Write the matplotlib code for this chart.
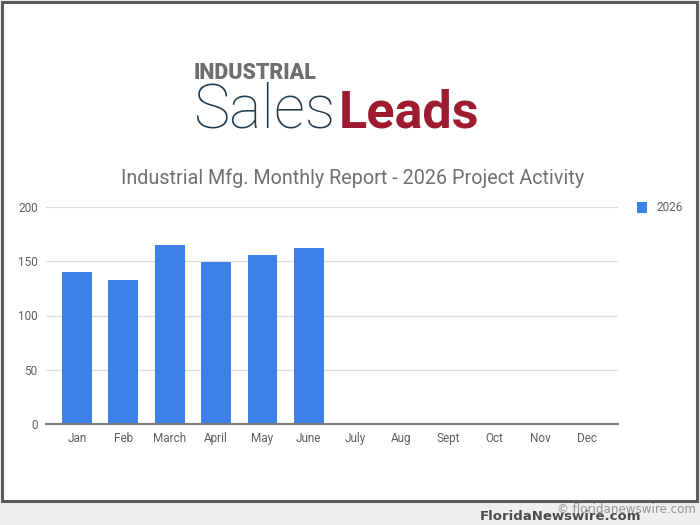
import matplotlib
matplotlib.use("Agg")
import matplotlib.pyplot as plt
from matplotlib.patches import Rectangle

months = ["Jan", "Feb", "March", "April", "May", "June",
          "July", "Aug", "Sept", "Oct", "Nov", "Dec"]
values_2026 = [140, 133, 165, 149, 156, 162, 0, 0, 0, 0, 0, 0]
yticks = [0, 50, 100, 150, 200]
series_name = "2026"
title = "Industrial Mfg. Monthly Report - 2026 Project Activity"

W, H = 700, 525
fig = plt.figure(figsize=(7, 5.25), dpi=100, facecolor="#eeeeee")

def fx(x):
    return x / W

def fy(y):
    return 1 - y / H

# white panel with dark frame
fig.patches.append(Rectangle((fx(2), fy(501)), fx(695), (499) / H,
                             transform=fig.transFigure, facecolor="white",
                             edgecolor="#5c5c5c", linewidth=2.2, zorder=-10))

ax = fig.add_axes([fx(46), fy(424), fx(618 - 46), (424 - 207) / H])
ax.set_facecolor("none")
x = list(range(len(months)))
ax.bar(x, values_2026, width=0.645, color="#3d80ea", zorder=3, label=series_name)
ax.set_xlim(-0.67, len(months) - 1 + 0.67)
ax.set_ylim(0, 200)
ax.set_yticks(yticks)
ax.set_yticklabels([str(v) for v in yticks])
ax.set_xticks(x)
ax.set_xticklabels(months)
ax.grid(axis="y", color="#dcdcdc", linewidth=0.9, zorder=0)
ax.set_axisbelow(True)
for s in ["top", "right", "left"]:
    ax.spines[s].set_visible(False)
ax.spines["bottom"].set_color("#7a7a7a")
ax.spines["bottom"].set_linewidth(1.5)
ax.spines["bottom"].set_zorder(4)
ax.tick_params(axis="both", length=0, labelsize=8.5, labelcolor="#5f5f5f")
ax.tick_params(axis="y", pad=6)
ax.tick_params(axis="x", pad=6)
for lab in ax.get_xticklabels() + ax.get_yticklabels():
    lab.set_fontfamily("Roboto")

# legend
fig.patches.append(Rectangle((fx(637), fy(213)), fx(10), 11 / H,
                             transform=fig.transFigure, facecolor="#3d80ea",
                             edgecolor="none"))
fig.text(fx(656), fy(207.5), series_name, fontsize=8.5, color="#5f5f5f",
         family="Roboto", va="center", ha="left")

# title
fig.text(fx(353), fy(178), title, fontsize=14.2, color="#707070",
         family="Roboto", ha="center", va="center")

# logo
fig.text(fx(194), fy(79), "INDUSTRIAL", fontsize=15.5, color="#6e6e6e",
         family="Roboto", fontweight="black", ha="left", va="baseline")
fig.text(fx(193), fy(128), "Sales", fontsize=44, color="#1e3a50",
         family="Roboto", fontweight="light", ha="left", va="baseline")
fig.text(fx(339), fy(128), "Leads", fontsize=37.5, color="#9e1a2f",
         family="Roboto", fontweight="bold",
         ha="left", va="baseline")

# watermark
fig.text(fx(480), fy(520), "FloridaNewswire.com", fontsize=9.5, color="#4a4a4a",
         family="DejaVu Sans", fontweight="bold", ha="left", va="baseline")
fig.text(fx(557), fy(513), "\u00a9 floridanewswire.com", fontsize=8.6, color="#8a8a8a",
         family="DejaVu Sans", ha="left", va="baseline", alpha=0.9)

fig.savefig("out.png", dpi=100, facecolor=fig.get_facecolor())
